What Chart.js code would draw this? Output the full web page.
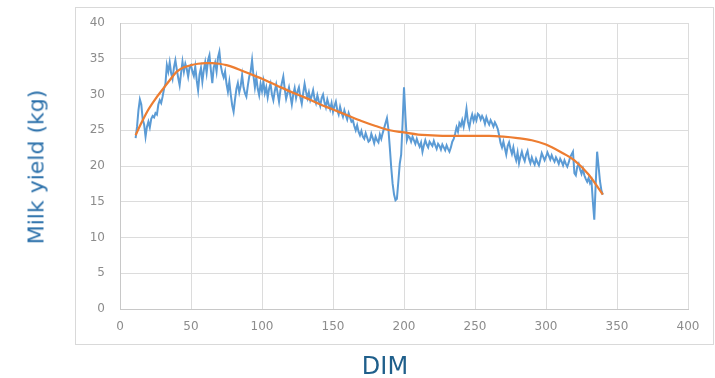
<!DOCTYPE html>
<html>
<head>
<meta charset="utf-8">
<script src="https://cdn.jsdelivr.net/npm/chart.js@4/dist/chart.umd.min.js"></script>
<style>
  html, body { margin: 0; padding: 0; background: #ffffff; }
  #wrap { position: relative; width: 715px; height: 378px; overflow: hidden; }
  #frame { position: absolute; left: 75px; top: 7px; width: 637px; height: 336px;
           border: 1px solid #d9d9d9; background: #ffffff; }
  #cv { position: absolute; left: 0; top: 0; }
  .ttl { position: absolute; font-family: "DejaVu Sans", Verdana, sans-serif; white-space: nowrap; }
  #ytitle { left: 36px; top: 167px; font-size: 22px; transform: translate(-50%, -50%) rotate(-90deg); color: #2b70aa; }
  #xtitle { left: 385px; top: 366px; font-size: 24px; transform: translate(-50%, -50%); color: #1f5f8b; }
</style>
</head>
<body>
<div id="wrap">
  <div id="frame"></div>
  <canvas id="cv" width="715" height="378"></canvas>
  <div class="ttl" id="ytitle">Milk yield (kg)</div>
  <div class="ttl" id="xtitle">DIM</div>
</div>
<script>
// Days in milk for the daily test-day records
const dailyDim = [
  11,12,13,14,15,16,17,18,19,20,21,22,23,24,25,26,27,28,29,30,
  31,32,33,34,35,36,37,38,39,40,41,42,43,44,45,46,47,48,49,50,
  51,52,53,54,55,56,57,58,59,60,61,62,63,64,65,66,67,68,69,70,
  71,72,73,74,75,76,77,78,79,80,81,82,83,84,85,86,87,88,89,90,
  91,92,93,94,95,96,97,98,99,100,101,102,103,104,105,106,107,108,109,110,
  111,112,113,114,115,116,117,118,119,120,121,122,123,124,125,126,127,128,129,130,
  131,132,133,134,135,136,137,138,139,140,141,142,143,144,145,146,147,148,149,150,
  151,152,153,154,155,156,157,158,159,160,161,162,163,164,165,166,167,168,169,170,
  171,172,173,174,175,176,177,178,179,180,181,182,183,184,185,186,187,188,189,190,
  191,192,193,194,195,196,197,198,199,200,201,202,203,204,205,206,207,208,209,210,
  211,212,213,214,215,216,217,218,219,220,221,222,223,224,225,226,227,228,229,230,
  231,232,233,234,235,236,237,238,239,240,241,242,243,244,245,246,247,248,249,250,
  251,252,253,254,255,256,257,258,259,260,261,262,263,264,265,266,267,268,269,270,
  271,272,273,274,275,276,277,278,279,280,281,282,283,284,285,286,287,288,289,290,
  291,292,293,294,295,296,297,298,299,300,301,302,303,304,305,306,307,308,309,310,
  311,312,313,314,315,316,317,318,319,320,321,322,323,324,325,326,327,328,329,330,
  331,332,333,334,335,336,337,338,339,340
];

// Observed daily milk yield (kg)
const dailyYield = [
  23.9,25.5,27.8,29.3,28.6,26.5,25.8,24.1,25.5,26.2,25.4,26.6,27.0,26.8,27.4,27.2,28.6,29.2,28.8,29.7,
  30.8,31.5,34.1,33.2,34.5,33.0,32.2,33.8,34.8,33.5,32.3,31.3,33.0,34.6,33.2,34.3,33.6,32.5,33.8,34.1,
  33.2,32.6,33.9,32.0,30.6,32.8,33.7,31.8,33.4,34.5,33.0,34.8,35.5,33.4,31.6,33.8,34.5,33.2,35.2,36.0,
  34.0,33.0,32.4,33.2,31.5,30.4,31.8,30.0,28.5,27.6,29.3,30.8,31.6,30.3,31.2,32.7,31.0,30.2,29.7,31.2,
  32.5,33.2,34.8,32.6,31.0,32.4,30.8,29.9,31.5,30.5,31.8,30.2,31.0,29.6,30.8,31.5,30.0,29.2,30.5,31.4,
  30.2,29.0,30.6,31.6,32.5,30.8,29.4,30.2,31.0,29.8,28.6,30.0,30.9,29.5,30.4,31.0,29.6,28.7,30.2,31.5,
  30.4,29.5,30.3,29.2,29.8,30.6,29.4,28.8,29.9,29.1,28.4,29.5,30.0,28.9,28.2,29.3,28.6,27.9,28.8,27.6,
  28.4,29.0,27.8,27.2,28.3,27.5,26.9,27.8,27.1,26.5,27.4,26.8,26.2,26.4,25.6,25.0,25.7,24.8,24.3,24.9,
  24.1,23.8,24.6,24.0,23.4,23.6,24.5,23.9,23.2,24.1,23.6,23.3,24.4,23.8,24.6,25.3,26.0,26.7,25.2,22.6,
  19.8,17.5,16.0,15.2,15.4,17.8,20.3,21.6,26.0,31.0,27.0,23.6,24.2,24.0,23.4,24.1,23.6,23.1,23.8,23.2,
  22.7,23.3,22.0,22.9,23.6,23.0,22.6,23.4,23.1,22.8,23.5,22.9,22.4,23.1,22.8,22.3,23.0,22.6,22.2,22.9,
  22.4,22.0,22.6,23.4,23.8,24.5,25.4,24.8,26.0,25.6,26.4,25.5,26.6,28.0,26.2,25.4,26.5,27.2,26.3,27.0,
  26.4,27.3,27.1,26.5,27.0,26.6,25.9,26.8,26.2,25.8,26.4,26.0,25.5,26.1,25.7,25.2,24.3,23.2,22.6,23.4,
  22.5,21.6,22.8,23.3,22.4,21.7,22.6,21.5,20.8,21.9,20.4,21.3,22.0,21.2,20.7,21.6,22.1,21.0,20.4,21.2,
  20.6,20.2,21.0,20.5,20.1,20.9,21.8,21.3,20.8,21.3,21.9,21.4,20.9,21.5,21.0,20.6,21.2,20.8,20.3,21.0,
  20.6,20.1,20.8,20.3,19.9,20.5,21.2,21.6,22.0,19.0,18.7,19.9,20.3,19.5,18.9,19.6,18.7,18.2,17.8,18.3,
  17.6,18.0,15.0,12.5,17.5,22.0,20.0,17.9,16.6,16.0
];

// Fitted lactation curve
const fitDim   = [11, 15, 20, 25, 30, 35, 40, 45, 50, 55, 60, 65, 70, 75, 80, 85, 90, 95, 100,
                  110, 120, 130, 140, 150, 160, 170, 180, 190, 200, 210, 220, 230, 240, 250,
                  260, 270, 280, 290, 300, 310, 320, 330, 340];
const fitYield = [24.3, 26.0, 27.9, 29.4, 30.7, 32.0, 33.2, 33.8, 34.1, 34.3, 34.4, 34.4, 34.3, 34.1, 33.8, 33.4, 33.0, 32.6, 32.2,
                  31.3, 30.4, 29.6, 28.7, 27.9, 27.1, 26.3, 25.6, 25.0, 24.7, 24.4, 24.3, 24.2, 24.2, 24.2,
                  24.2, 24.1, 23.9, 23.6, 23.0, 22.0, 20.8, 18.8, 16.0];

// Axis ranges and tick steps
const xTicks = { min: 0, max: 400, step: 50 };
const yTicks = { min: 0, max: 40, step: 5 };

const toPoints = (xs, ys) => xs.map((x, i) => ({ x: x, y: ys[i] }));

const tickFont = { family: "'DejaVu Sans', sans-serif", size: 12 };

new Chart(document.getElementById('cv'), {
  type: 'scatter',
  data: {
    datasets: [
      {
        label: 'Fitted',
        data: toPoints(fitDim, fitYield),
        showLine: true,
        borderColor: '#ed7d31',
        borderWidth: 2.25,
        pointRadius: 0,
        cubicInterpolationMode: 'monotone',
        order: 0
      },
      {
        label: 'Observed',
        data: toPoints(dailyDim, dailyYield),
        showLine: true,
        borderColor: '#5b9bd5',
        borderWidth: 2,
        pointRadius: 0,
        tension: 0,
        order: 1
      }
    ]
  },
  options: {
    responsive: false,
    animation: false,
    devicePixelRatio: 1,
    layout: { padding: { top: 23, right: 27, left: 0, bottom: 0 } },
    plugins: { legend: { display: false }, tooltip: { enabled: false } },
    scales: {
      x: {
        type: 'linear',
        min: xTicks.min, max: xTicks.max,
        ticks: { stepSize: xTicks.step, color: '#8c8c8c', font: tickFont, padding: 11 },
        grid: { color: '#dcdcdc', drawTicks: false, lineWidth: 1 },
        border: { color: '#c8c8c8' },
        afterFit: s => { s.height = 69; }
      },
      y: {
        type: 'linear',
        min: yTicks.min, max: yTicks.max,
        ticks: { stepSize: yTicks.step, color: '#8c8c8c', font: tickFont, padding: 15 },
        grid: { color: '#dcdcdc', drawTicks: false, lineWidth: 1 },
        border: { color: '#c8c8c8' },
        afterFit: s => { s.width = 120; }
      }
    }
  }
});
</script>
</body>
</html>
